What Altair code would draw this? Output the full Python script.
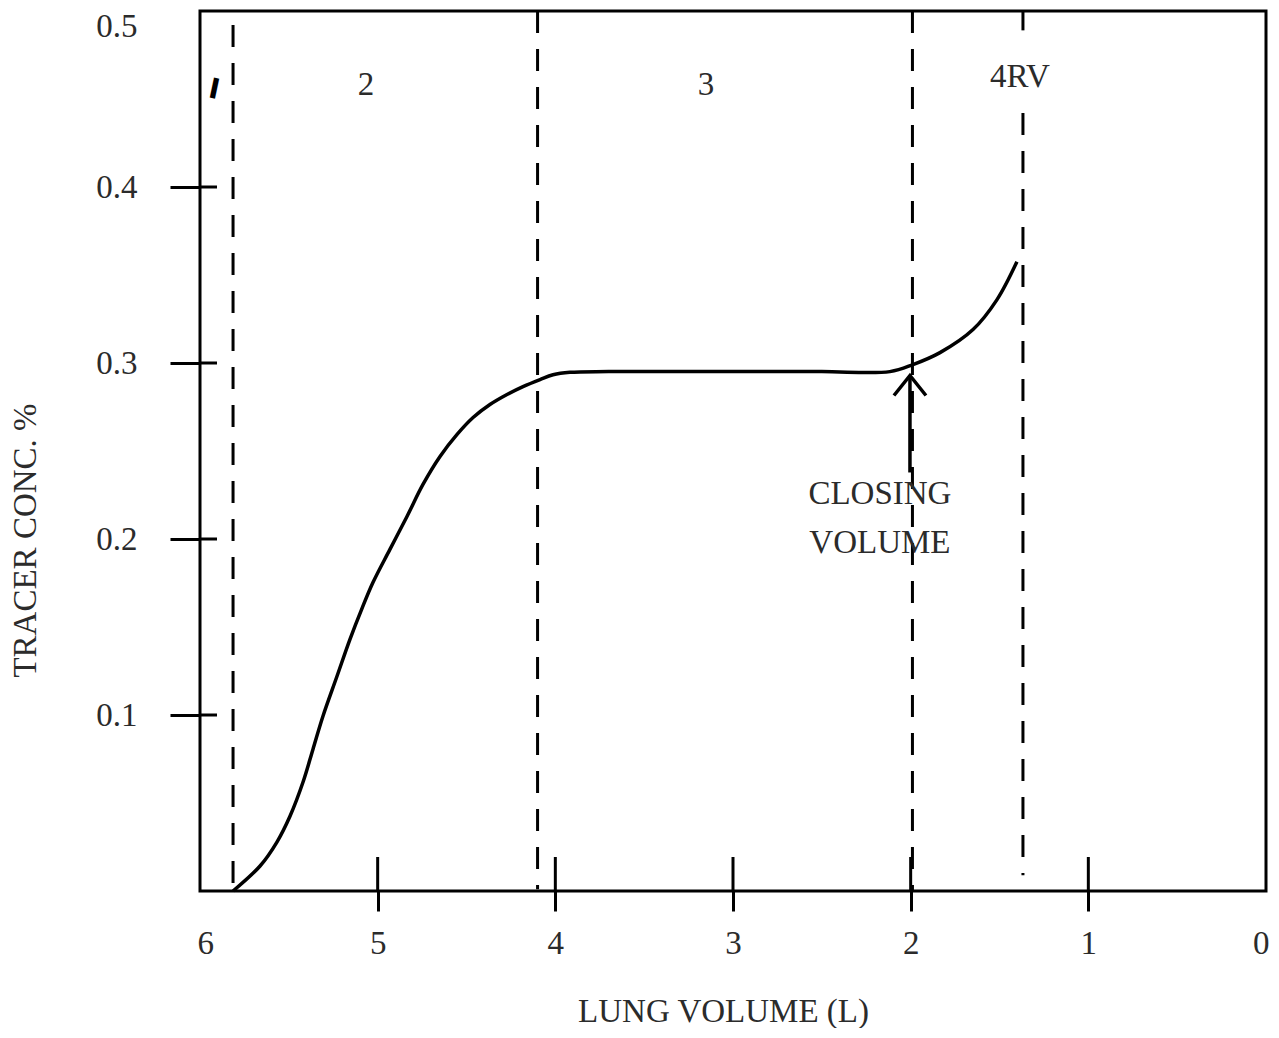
import altair as alt
import pandas as pd

# ---- data ----
volume = [5.814, 5.662, 5.567, 5.493, 5.420, 5.364, 5.308, 5.229, 5.156,
          5.088, 5.026, 4.931, 4.835, 4.745, 4.649, 4.553, 4.463, 4.368, 4.272,
          4.182, 4.086, 4.013, 3.918, 3.7, 3.0, 2.5, 2.117,
          1.987, 1.835, 1.649, 1.514, 1.402]
conc = [0.0, 0.0142, 0.0278, 0.0426, 0.0619, 0.0806, 0.0993, 0.1220, 0.1430,
        0.1606, 0.1754, 0.1941, 0.2128, 0.2310, 0.2469, 0.2594, 0.2690, 0.2764, 0.2821,
        0.2866, 0.2906, 0.2933, 0.2947, 0.2951, 0.2951, 0.2951, 0.2951,
        0.2991, 0.3059, 0.3190, 0.3360, 0.3575]

x_ticks = [6, 5, 4, 3, 2, 1, 0]
x_inner_ticks = [5, 4, 3, 2, 1]
y_ticks = [0.1, 0.2, 0.3, 0.4, 0.5]
y_inner_ticks = [0.1, 0.2, 0.3, 0.4]

boundary_x = [5.814, 4.10, 1.99, 1.368, 1.368]
boundary_top = [0.492, 0.5, 0.5, 0.442, 0.5]
boundary_bottom = [0.0, 0.001, 0.0, 0.009, 0.489]

phase_labels = ["2", "3", "4RV"]
phase_x = [5.066, 3.152, 1.385]
phase_y = [0.458, 0.458, 0.4625]

phase1_label = ["I"]
phase1_x = [5.921]
phase1_y = [0.455]

note_lines = ["CLOSING", "VOLUME"]
note_x = [2.173, 2.173]
note_y = [0.2253, 0.198]

arrow_x = [2.004, 2.004]
arrow_y = [0.2378, 0.2917]
arrowhead_x = [2.004]
arrowhead_y = [0.2872]

FONT = "Liberation Serif"
TXT = "#2b2b2b"
W, H = 1066, 880

xscale = alt.Scale(domain=[0, 6], reverse=True, nice=False, zero=False)
yscale = alt.Scale(domain=[0, 0.5], nice=False, zero=False)

x_axis = alt.Axis(
    values=x_ticks, format="d", grid=False, domain=False,
    labelFont=FONT, labelFontSize=33, labelColor=TXT, labelPadding=16,
    labelFlush=True, labelFlushOffset=3,
    tickSize=20, tickWidth=3, tickColor="black",
    tickOpacity={"condition": {"test": "datum.value == 6 || datum.value == 0", "value": 0}, "value": 1},
    title="LUNG VOLUME (L)", titleFont=FONT, titleFontSize=33, titleFontWeight="normal",
    titleColor=TXT, titleX=523, titleY=120, titleBaseline="middle", titleAlign="center",
)
y_axis = alt.Axis(
    values=y_ticks, format=".1f", grid=False, domain=False,
    labelFont=FONT, labelFontSize=33, labelColor=TXT, labelPadding=33,
    labelFlush=True, labelFlushOffset=1,
    tickSize=30, tickWidth=3, tickColor="black",
    tickOpacity={"condition": {"test": "datum.value == 0.5", "value": 0}, "value": 1},
    title="TRACER CONC. %", titleFont=FONT, titleFontSize=33, titleFontWeight="normal",
    titleColor=TXT, titleX=-175, titleY=529, titleBaseline="middle", titleAlign="center",
    titleAngle=270,
)


def X(field):
    return alt.X(field, scale=xscale, axis=x_axis)


def Y(field):
    return alt.Y(field, scale=yscale, axis=y_axis)


curve_df = pd.DataFrame({"volume": volume, "conc": conc})
curve = alt.Chart(curve_df).mark_line(color="black", strokeWidth=3.5, interpolate="catmull-rom").encode(
    x=X("volume:Q"),
    y=Y("conc:Q"),
)

bnd_df = pd.DataFrame({"x": boundary_x, "top": boundary_top, "bottom": boundary_bottom})
boundaries = alt.Chart(bnd_df).mark_rule(color="black", strokeWidth=3, strokeDash=[22, 16]).encode(
    x=X("x:Q"),
    y=Y("top:Q"),
    y2="bottom:Q",
)

xt_df = pd.DataFrame({"v": x_inner_ticks})
x_inner = alt.Chart(xt_df).mark_rule(color="black", strokeWidth=3).encode(
    x=X("v:Q"),
    y=alt.value(H),
    y2=alt.value(H - 34),
)

yt_df = pd.DataFrame({"v": y_inner_ticks})
y_inner = alt.Chart(yt_df).mark_rule(color="black", strokeWidth=3).encode(
    y=Y("v:Q"),
    x=alt.value(0),
    x2=alt.value(17),
)

ph_df = pd.DataFrame({"label": phase_labels, "x": phase_x, "y": phase_y})
phases = alt.Chart(ph_df).mark_text(font=FONT, fontSize=33, color=TXT, baseline="middle", align="center").encode(
    x=X("x:Q"),
    y=Y("y:Q"),
    text="label:N",
)

p1_df = pd.DataFrame({"label": phase1_label, "x": phase1_x, "y": phase1_y})
phase1 = alt.Chart(p1_df).mark_text(font="DejaVu Sans", fontSize=28, fontWeight="bold", color="black",
                                    baseline="middle", align="center", angle=12).encode(
    x=X("x:Q"),
    y=Y("y:Q"),
    text="label:N",
)

note_df = pd.DataFrame({"label": note_lines, "x": note_x, "y": note_y})
note = alt.Chart(note_df).mark_text(font=FONT, fontSize=33, color=TXT, baseline="middle", align="center").encode(
    x=X("x:Q"),
    y=Y("y:Q"),
    text="label:N",
)

arrow_df = pd.DataFrame({"x": arrow_x, "y": arrow_y})
arrow = alt.Chart(arrow_df).mark_line(color="black", strokeWidth=3.5).encode(
    x=X("x:Q"),
    y=Y("y:Q"),
)

head_df = pd.DataFrame({"x": arrowhead_x, "y": arrowhead_y})
head = alt.Chart(head_df).mark_point(
    shape="M-1,0.625L0,-0.625L1,0.625", size=1024, filled=False, color="black", strokeWidth=3.5, opacity=1
).encode(
    x=X("x:Q"),
    y=Y("y:Q"),
)

chart = alt.layer(curve, boundaries, x_inner, y_inner, arrow, head, phases, phase1, note).properties(
    width=W, height=H,
    autosize=alt.AutoSizeParams(type="none"),
    padding={"left": 192, "top": 3, "right": 5, "bottom": 137},
    background="white",
).configure_view(stroke="black", strokeWidth=3)

chart.save("out.html", embed_options={"renderer": "svg", "actions": False})
